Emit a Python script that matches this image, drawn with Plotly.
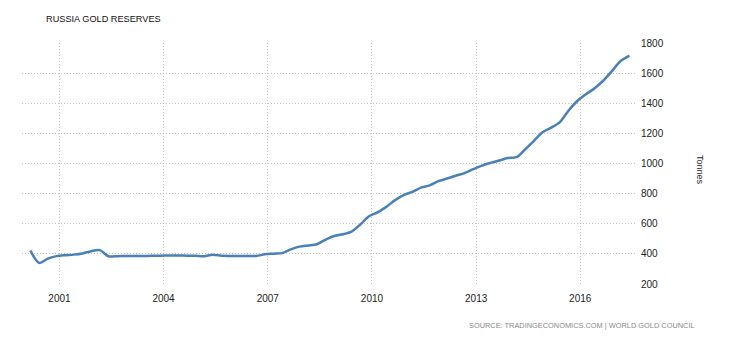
import plotly.graph_objects as go

# Quarterly observations (dated on the first day of each quarter's last month)
years = list(range(2000, 2018))
months = ["03", "06", "09", "12"]
dates = [f"{y}-{m}-01" for y in years for m in months][:70]

reserves = [
    422, 340, 368, 385,      # 2000
    391, 395, 403, 418,      # 2001
    425, 384, 385, 386,      # 2002
    386, 386, 387, 388,      # 2003
    389, 389, 388, 387,      # 2004
    385, 394, 387, 386,      # 2005
    386, 386, 386, 397,      # 2006
    401, 405, 430, 448,      # 2007
    456, 464, 495, 519,      # 2008
    530, 548, 595, 650,      # 2009
    676, 712, 757, 790,      # 2010
    812, 840, 855, 883,      # 2011
    900, 919, 936, 962,      # 2012
    986, 1004, 1020, 1036,   # 2013
    1042, 1094, 1150, 1208,  # 2014
    1238, 1275, 1352, 1415,  # 2015
    1460, 1500, 1551, 1615,  # 2016
    1680, 1716,              # 2017
]

x_tick_vals = ["2001-01-01", "2004-01-01", "2007-01-01", "2010-01-01", "2013-01-01", "2016-01-01"]
x_tick_text = ["2001", "2004", "2007", "2010", "2013", "2016"]
y_tick_vals = [200, 400, 600, 800, 1000, 1200, 1400, 1600, 1800]

title_text = "RUSSIA GOLD RESERVES"
source_text = "SOURCE: TRADINGECONOMICS.COM | WORLD GOLD COUNCIL"
unit_text = "Tonnes"

L, R, T, B = 22, 95, 42.5, 55.5
plot_w = 730 - L - R
plot_h = 340 - T - B


def px_x(px):
    return (px - L) / plot_w


def px_y(py):
    return (340 - B - py) / plot_h


fig = go.Figure()
fig.add_trace(go.Scatter(
    x=dates, y=reserves, mode="lines",
    line=dict(color="#4a80b8", width=2.5, shape="spline", smoothing=0.8),
    hoverinfo="x+y", showlegend=False,
))

grid_style = dict(showgrid=True, gridcolor="#c4c4c4", griddash="1px,2px", gridwidth=1,
                  showline=False, zeroline=False)

fig.update_layout(
    width=730, height=340,
    margin=dict(l=L, r=R, t=T, b=B),
    paper_bgcolor="white", plot_bgcolor="white",
    font=dict(family="Liberation Sans, Arial, sans-serif", size=10, color="#222"),
    xaxis=dict(
        range=["1999-12-04", "2017-07-30"],
        tickvals=x_tick_vals, ticktext=x_tick_text,
        ticks="outside", ticklen=5, tickcolor="rgba(0,0,0,0)",
        tickfont=dict(size=10, color="#222"),
        **grid_style,
    ),
    yaxis=dict(
        range=[200, 1800], side="right",
        tickvals=y_tick_vals,
        ticks="outside", ticklen=3, tickcolor="rgba(0,0,0,0)",
        tickfont=dict(size=10, color="#222"),
        **grid_style,
    ),
    annotations=[
        dict(text=title_text, xref="paper", yref="paper", x=px_x(44), y=px_y(18),
             xanchor="left", yanchor="middle", showarrow=False,
             font=dict(family="Liberation Sans, Arial", size=9.2, color="#111")),
        dict(text=unit_text, xref="paper", yref="paper", x=px_x(700), y=px_y(170),
             textangle=90, xanchor="center", yanchor="middle", showarrow=False,
             font=dict(size=9, color="#222")),
        dict(text=source_text, xref="paper", yref="paper", x=px_x(697), y=px_y(326),
             xanchor="right", yanchor="middle", showarrow=False,
             font=dict(family="Liberation Sans, Arial", size=7.4, color="#8a8a8a")),
    ],
)

fig.write_html("out.html")
